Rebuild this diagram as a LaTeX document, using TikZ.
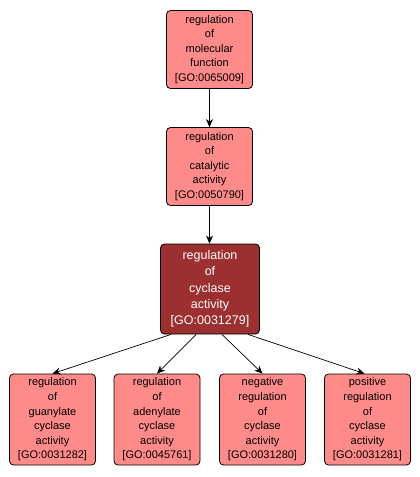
\documentclass[tikz,border=0pt]{standalone}
\usepackage{fontspec}
\setmainfont{Liberation Sans}
\usetikzlibrary{arrows.meta}
\definecolor{boxfill}{HTML}{FF8A8A}
\definecolor{mainfill}{HTML}{9C2F2F}
\tikzset{
  term/.style={draw=black, line width=0.8pt, rounded corners=4pt, fill=boxfill, align=center,
    inner sep=0pt, minimum width=86pt, minimum height=78pt,
    font=\fontsize{11}{14.6}\selectfont},
  mainterm/.style={term, fill=mainfill, text=white, minimum width=99pt, minimum height=90pt,
    font=\fontsize{12.5}{16.3}\selectfont},
  leaf/.style={term, minimum height=91pt},
  link/.style={draw=black, line width=0.7pt, -{Stealth[length=8pt,width=7pt,inset=2.5pt]}}
}
\begin{document}
\begin{tikzpicture}[x=1pt,y=-1pt]
\useasboundingbox (0,0) rectangle (420,477);
\node[term] (mf) at (209.5,49.5) {regulation\\of\\molecular\\function\\{[GO:0065009]}};
\node[term] (ca) at (209.5,166.5) {regulation\\of\\catalytic\\activity\\{[GO:0050790]}};
\node[mainterm] (cy) at (210,289) {regulation\\of\\cyclase\\activity\\{[GO:0031279]}};
\node[leaf] (gu) at (52.5,419.5) {regulation\\of\\guanylate\\cyclase\\activity\\{[GO:0031282]}};
\node[leaf] (ad) at (157,419.5) {regulation\\of\\adenylate\\cyclase\\activity\\{[GO:0045761]}};
\node[leaf] (ne) at (262.5,419.5) {negative\\regulation\\of\\cyclase\\activity\\{[GO:0031280]}};
\node[leaf] (po) at (367.5,419.5) {positive\\regulation\\of\\cyclase\\activity\\{[GO:0031281]}};
\draw[link] (mf.south) -- (ca.north);
\draw[link] (ca.south) -- (ca.south |- cy.north);
\draw[link] ([xshift=11pt]cy.south west) -- (gu.north);
\draw[link] ([xshift=36pt]cy.south west) -- (ad.north);
\draw[link] ([xshift=-38pt]cy.south east) -- (ne.north);
\draw[link] ([xshift=-12pt]cy.south east) -- ([xshift=-3pt]po.north);
\end{tikzpicture}
\end{document}
